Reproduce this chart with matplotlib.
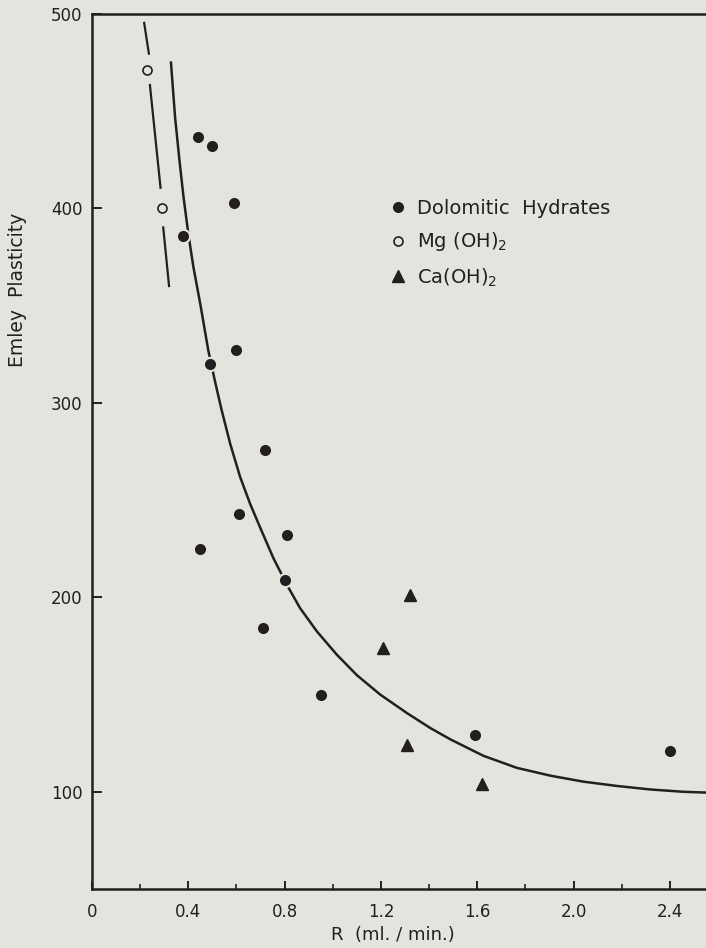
"""
plot.py
-------
Emley plasticity against R for dolomitic hydrates, Mg(OH)2 and Ca(OH)2,
with the hand-drawn trend curves of the original figure.
"""

import matplotlib
matplotlib.use("Agg")
import matplotlib.pyplot as plt

# Data.
dolomitic_r = [0.38, 0.44, 0.50, 0.59, 0.49, 0.60, 0.72, 0.61, 0.45, 0.81, 0.80, 0.71, 0.95, 1.59, 2.40]
dolomitic_plast = [386, 437, 432, 403, 320, 327, 276, 243, 225, 232, 209, 184, 150, 129, 121]

mg_r = [0.23, 0.29]
mg_plast = [471, 400]

ca_r = [1.21, 1.32, 1.31, 1.62]
ca_plast = [174, 201, 124, 104]

# Solid trend curve.
curve_r = [0.328, 0.345, 0.363, 0.380, 0.400, 0.421, 0.451, 0.483, 0.511, 0.539,
           0.574, 0.615, 0.657, 0.705, 0.754, 0.816, 0.864, 0.934, 1.017, 1.100,
           1.197, 1.308, 1.405, 1.488, 1.626, 1.765, 1.904, 2.042, 2.181, 2.319,
           2.458, 2.552]
curve_plast = [475, 447, 425, 406, 387, 370, 350, 327, 311, 296,
               279, 262, 248, 234, 220, 205, 194.5, 182.5, 170.5, 160,
               150, 140.5, 132.8, 127, 118.5, 112.3, 108.3, 105.2, 103, 101.2,
               100, 99.6]

# Dashed Mg(OH)2 line.
dash_r = [0.216, 0.237, 0.241, 0.286, 0.296, 0.321]
dash_plast = [496, 479, 463, 409, 390, 359]

x_ticks = [0, 0.4, 0.8, 1.2, 1.6, 2.0, 2.4]
x_tick_labels = ["0", "0.4", "0.8", "1.2", "1.6", "2.0", "2.4"]
x_minor = [0.2, 0.6, 1.0, 1.4, 1.8, 2.2]
y_ticks = [100, 200, 300, 400, 500]

BG = "#e2e4dd"
INK = "#231f20"

plt.rcParams["font.family"] = ["DejaVu Sans"]
plt.rcParams["lines.scale_dashes"] = False

fig = plt.figure(figsize=(7.06, 9.48), dpi=100, facecolor=BG)
ax = fig.add_axes([0.1303, 0.0622, 0.8697, 0.923])
ax.set_facecolor(BG)

# Trend curves first so the markers can punch small gaps into them.
ax.plot(curve_r, curve_plast, color=INK, lw=1.8, solid_joinstyle="round", zorder=2)
ax.plot(dash_r, dash_plast, color=INK, lw=1.6,
        dashes=(24, 21, 76, 27, 44, 200), zorder=2)

ax.plot(dolomitic_r, dolomitic_plast, "o", color=INK, ms=9.5,
        mec=BG, mew=1.5, label="Dolomitic  Hydrates", zorder=3)
ax.plot(mg_r, mg_plast, "o", mfc=BG, mec=INK, ms=6.5, mew=1.2,
        label="Mg (OH)$_2$", zorder=3)
ax.plot(ca_r, ca_plast, "^", color=INK, ms=8.5, mec=INK,
        label="Ca(OH)$_2$", zorder=3)

ax.set_xlim(0, 2.55)
ax.set_ylim(50, 500)

ax.set_xticks(x_ticks)
ax.set_xticklabels(x_tick_labels)
ax.set_xticks(x_minor, minor=True)
ax.set_yticks(y_ticks)

ax.tick_params(axis="x", which="major", direction="in", length=6, width=1.4,
               pad=10, labelsize=12, colors=INK)
ax.tick_params(axis="x", which="minor", direction="in", length=3.5, width=1.2,
               colors=INK)
ax.tick_params(axis="y", direction="in", length=7, width=1.4, pad=7,
               labelsize=12, colors=INK)

for side in ("left", "bottom", "top"):
    ax.spines[side].set_linewidth(1.8)
    ax.spines[side].set_color(INK)
ax.spines["right"].set_visible(False)

ax.set_xlabel("R  (ml. / min.)", fontsize=13, color=INK)
ax.xaxis.set_label_coords(0.49, -0.042)
ax.set_ylabel("Emley  Plasticity", fontsize=13.5, color=INK)
ax.yaxis.set_label_coords(-0.106, 0.685)

leg = ax.legend(loc="upper left", bbox_to_anchor=(0.473, 0.798), frameon=False,
                fontsize=14, handlelength=0.8, handletextpad=0.57,
                labelspacing=0.66, borderaxespad=0)
for txt in leg.get_texts():
    txt.set_color(INK)

fig.savefig("out.png", dpi=100, facecolor=BG)
